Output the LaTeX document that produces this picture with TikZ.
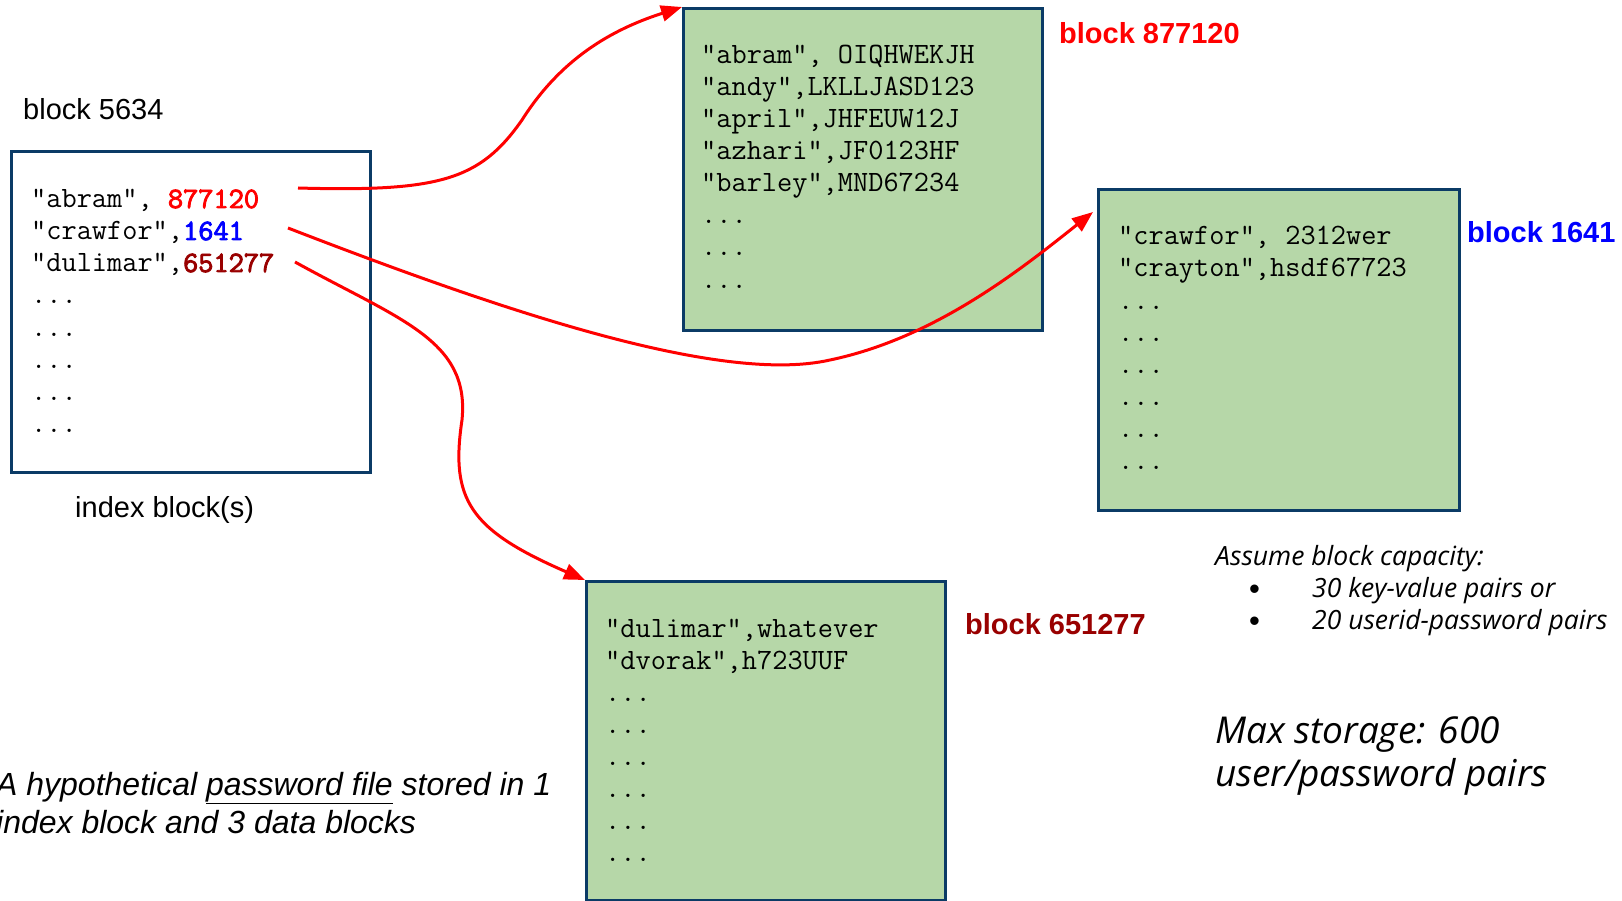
\documentclass[tikz,border=0pt]{standalone}
\usepackage{fontspec}
\setmainfont{Liberation Sans}
\setmonofont{Latin Modern Mono}[AutoFakeBold=3]
\newfontfamily\notefont{Open Sans}
\usetikzlibrary{arrows.meta}
\definecolor{boxgreen}{HTML}{B6D7A8}
\definecolor{boxedge}{HTML}{0B3B66}
\definecolor{ptrred}{HTML}{FF0000}
\definecolor{ptrblue}{HTML}{0000FF}
\definecolor{ptrdark}{HTML}{990000}
\newcommand\moreentries{...}
\begin{document}
\begin{tikzpicture}[x=1pt,y=-1pt,
  blk/.style={draw=boxedge,line width=3pt,anchor=north west,inner sep=0pt},
  datablk/.style={blk,fill=boxgreen},
  entry/.style={anchor=base west,inner sep=0pt,font=\fontsize{29.5}{32}\selectfont\ttfamily},
  lbl/.style={anchor=base west,inner sep=0pt,font=\fontsize{29}{34}\selectfont},
  note/.style={anchor=base west,inner sep=0pt,font=\fontsize{26.5}{30}\selectfont\notefont\itshape},
  ptr/.style={draw=ptrred,line width=3pt,-{Triangle[length=21pt,width=16pt]}}]
\useasboundingbox (0,0) rectangle (1622,901);

% index block
\node[blk,minimum width=359pt,minimum height=321pt] (idx) at (10,150) {};
\node[lbl] (idxname) at (23,120) {block 5634};
\node[lbl] (idxcap) at (75,517) {index block(s)};
\foreach \row [count=\i from 0] in {{"abram", \textcolor{ptrred}{\textbf{877120}}},
    {"crawfor",\textcolor{ptrblue}{\textbf{1641}}},
    {"dulimar",\textcolor{ptrdark}{\textbf{651277}}},
    \moreentries,\moreentries,\moreentries,\moreentries,\moreentries}
  \node[entry] (i\i) at (31,{208+32*\i}) {\row};

% data blocks
\node[datablk,minimum width=359pt,minimum height=322pt] (A) at (682,7) {};
\node[lbl,text=ptrred,font=\fontsize{29}{34}\selectfont\bfseries] (Aname) at (1059,44) {block 877120};
\foreach \row [count=\i from 0] in {{"abram", OIQHWEKJH},{"andy",LKLLJASD123},
    {"april",JHFEUW12J},{"azhari",JF0123HF},{"barley",MND67234},
    \moreentries,\moreentries,\moreentries}
  \node[entry] (a\i) at (701,{64+32*\i}) {\row};

\node[datablk,minimum width=361pt,minimum height=321pt] (B) at (1097,188) {};
\node[lbl,text=ptrblue,font=\fontsize{29}{34}\selectfont\bfseries] (Bname) at (1467,243) {block 1641};
\foreach \row [count=\i from 0] in {{"crawfor", 2312wer},{"crayton",hsdf67723},
    \moreentries,\moreentries,\moreentries,\moreentries,\moreentries,\moreentries}
  \node[entry] (b\i) at (1118,{245+32*\i}) {\row};

\node[datablk,minimum width=359pt,minimum height=319pt] (C) at (585,580) {};
\node[lbl,text=ptrdark,font=\fontsize{29}{34}\selectfont\bfseries] (Cname) at (965,634) {block 651277};
\foreach \row [count=\i from 0] in {{"dulimar",whatever},{"dvorak",h723UUF},
    \moreentries,\moreentries,\moreentries,\moreentries,\moreentries,\moreentries}
  \node[entry] (c\i) at (605,{637+32*\i}) {\row};

% pointers
\coordinate (fromA) at (298,188);
\coordinate (fromB) at (288,228);
\coordinate (fromC) at (295,262);
\coordinate (intoB) at (1093,212);
\draw[ptr] (fromA) .. controls (440,192) and (480,180) .. (522,120)
  .. controls (560,60) and (610,30) .. (A.north west);
\draw[ptr] (fromB) .. controls (500,310) and (720,385) .. (830,360)
  .. controls (935,338) and (1020,270) .. (intoB);
\draw[ptr] (fromC) .. controls (400,320) and (470,340) .. (462,420)
  .. controls (450,500) and (470,530) .. (C.north west);

% notes
\node[note] (cap) at (1215,565) {Assume block capacity:};
\node[lbl,font=\fontsize{31}{31}\selectfont] (dot1) at (1249,599) {\textbullet};
\node[lbl,font=\fontsize{31}{31}\selectfont] (dot2) at (1249,631) {\textbullet};
\node[note] (cap1) at (1312,597) {30 key-value pairs or};
\node[note] (cap2) at (1312,629) {20 userid-password pairs};
\node[note,font=\fontsize{37}{43}\selectfont\notefont\itshape] (max1) at (1215,743) {Max storage: 600};
\node[note,font=\fontsize{37}{43}\selectfont\notefont\itshape] (max2) at (1215,786) {user/password pairs};
\node[lbl,font=\fontsize{32}{36}\selectfont\itshape] (desc1) at (-4,795) {A hypothetical \underline{password file} stored in 1};
\node[lbl,font=\fontsize{32}{36}\selectfont\itshape] (desc2) at (-4,833) {index block and 3 data blocks};
\end{tikzpicture}
\end{document}
